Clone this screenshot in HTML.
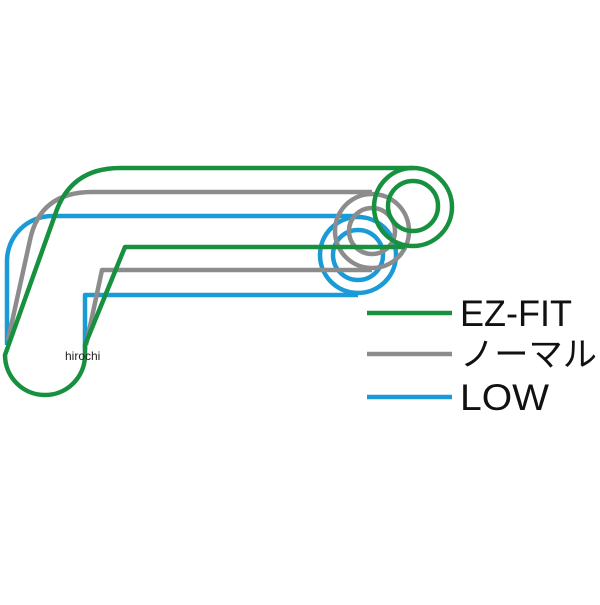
<!DOCTYPE html>
<html><head><style>
html,body{margin:0;padding:0;background:#fff;}
</style></head><body>
<svg width="600" height="600" viewBox="0 0 600 600" xmlns="http://www.w3.org/2000/svg">
<g fill="none" stroke-width="4.5" stroke-linejoin="round">
<g stroke="#1a9ad6">
<path d="M358 216 L52 216 A45 45 0 0 0 7 261 L7 345"/>
<path d="M358 295 L85 295 L85 350"/>
<circle cx="358" cy="255" r="38"/>
<circle cx="358" cy="255" r="25"/>
</g>
<g stroke="#8c8c8c">
<path d="M372 192 L92 192 Q40 192 30 240 L8 340"/>
<path d="M372 270 L102 270 L86 345"/>
<circle cx="372" cy="231" r="37"/>
<circle cx="372" cy="231" r="23"/>
</g>
<g stroke="#17913f">
<path d="M413 168 L120 168 Q70 168 55 215 L5 355 A40 40 0 0 0 85 355 L85 345 L125 247 L405 247"/>
<circle cx="413" cy="207" r="39"/>
<circle cx="413" cy="206" r="25"/>
</g>
</g>
<line x1="367" y1="313" x2="452" y2="313" stroke="#17913f" stroke-width="4.5"/>
<line x1="367" y1="354" x2="452" y2="354" stroke="#8c8c8c" stroke-width="4.5"/>
<line x1="367" y1="397" x2="452" y2="397" stroke="#1a9ad6" stroke-width="4.5"/>
<g font-family="'Liberation Sans','Noto Sans CJK JP',sans-serif" font-size="37" fill="#111">
<text x="460" y="326" textLength="112" lengthAdjust="spacingAndGlyphs">EZ-FIT</text>
<text x="460" y="366" font-size="34" textLength="137" lengthAdjust="spacingAndGlyphs">ノーマル</text>
<text x="460" y="410" textLength="89" lengthAdjust="spacingAndGlyphs">LOW</text>
</g>
<text x="65" y="360" font-family="'Liberation Sans',sans-serif" font-size="12" fill="#222">hirochi</text>
</svg>
</body></html>
